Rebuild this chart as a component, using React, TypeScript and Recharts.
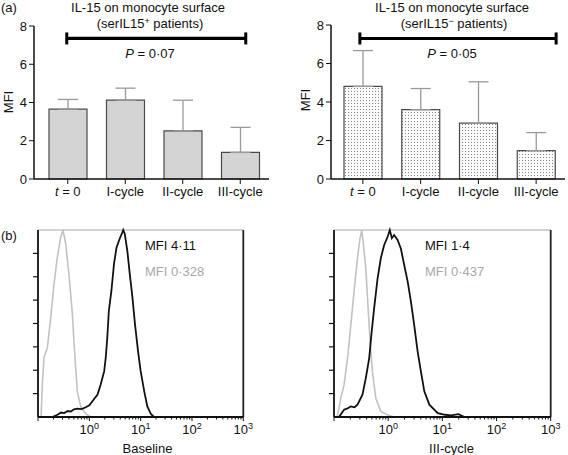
import React from 'react';
import { BarChart, Bar, XAxis, YAxis, ErrorBar, ReferenceLine, LineChart, Line } from 'recharts';

const FONT = '"Liberation Sans", Arial, Helvetica, sans-serif';

// (a) IL-15 MFI on monocytes, mean + upper SD
const cycles = ['t = 0', 'I-cycle', 'II-cycle', 'III-cycle'];
const posMean = [3.65, 4.12, 2.52, 1.39];
const posSd = [0.51, 0.63, 1.6, 1.31];
const negMean = [4.81, 3.6, 2.9, 1.47];
const negSd = [1.86, 1.1, 2.15, 0.94];
const mfiTicks = [0, 2, 4, 6, 8];

// (b) histograms: [log10 fluorescence, % of peak count]
const baselineIl15: [number, number][] = [
  [-0.72, 0], [-0.62, 1.2], [-0.55, 2.4], [-0.49, 2.1], [-0.42, 3.2], [-0.36, 2.9], [-0.3, 4.1],
  [-0.23, 4.5], [-0.15, 4.2], [-0.07, 5.2], [0.0, 6.2], [0.06, 8.4], [0.16, 12], [0.22, 17.3],
  [0.29, 24.5], [0.32, 31.7], [0.35, 42.4], [0.38, 56.7], [0.43, 67.4], [0.48, 81.7], [0.53, 90.7],
  [0.6, 96], [0.64, 98.5], [0.66, 100], [0.69, 98], [0.74, 89], [0.79, 76], [0.84, 64], [0.89, 49.5],
  [0.95, 35], [1.0, 24.5], [1.07, 13.7], [1.13, 5.7], [1.2, 1.6], [1.26, 0],
];
const baselineIso: [number, number][] = [
  [-0.94, 0], [-0.916, 17], [-0.883, 32], [-0.818, 37], [-0.753, 53], [-0.688, 71], [-0.623, 85.5],
  [-0.558, 96], [-0.513, 100], [-0.46, 92.5], [-0.396, 76], [-0.33, 55], [-0.3, 40.6], [-0.265, 26],
  [-0.234, 13.7], [-0.168, 5.7], [-0.07, 1.6], [0.03, 0],
];
const cycle3Il15: [number, number][] = [
  [-0.907, 0], [-0.815, 3.9], [-0.75, 4.6], [-0.69, 5.7], [-0.62, 5.2], [-0.567, 6.6], [-0.474, 11.9],
  [-0.413, 20.8], [-0.35, 31.5], [-0.31, 44], [-0.26, 58], [-0.196, 74], [-0.135, 85], [-0.074, 92],
  [-0.01, 96.4], [0.03, 100], [0.068, 95.6], [0.11, 97.3], [0.174, 94.7], [0.235, 90], [0.296, 81.3],
  [0.36, 72.4], [0.42, 61.7], [0.48, 49.3], [0.544, 35], [0.605, 24.3], [0.667, 13.7], [0.76, 6.6],
  [0.915, 2.1], [1.05, 1.2], [1.16, 0.9], [1.3, 1.5], [1.41, 0],
];
const cycle3Iso: [number, number][] = [
  [-0.94, 0], [-0.876, 10], [-0.815, 17], [-0.75, 31.5], [-0.69, 49], [-0.63, 67], [-0.567, 85],
  [-0.52, 95.6], [-0.487, 100], [-0.456, 92], [-0.413, 79.5], [-0.37, 58], [-0.333, 40], [-0.29, 24],
  [-0.228, 10], [-0.135, 3], [-0.01, 1], [0.11, 0],
];
const decades = [-1, 0, 1, 2, 3];
const minorSteps = [2, 3, 4, 5, 6, 7, 8, 9];
const countTicks = [12.5, 25, 37.5, 50, 62.5, 75, 87.5];

const logTicks = [
  ...decades,
  ...decades.slice(0, -1).flatMap((d) => minorSteps.map((m) => d + Math.log10(m))),
].sort((a, b) => a - b);

// histogram frame geometry (panel top 220, chart margin top 10, x-axis height 38)
const HIST_TOP = 230;
const HIST_H = 187;
const histAxisX = [38, 334];

const toXY = (pts: [number, number][]) => pts.map(([x, y]) => ({ x, y }));

const CycleTick = ({ x, y, payload }: any) => {
  const v = String(payload.value);
  return (
    <text x={x} y={y} dy="0.71em" textAnchor="middle" fontSize={13} fill="#111" fontFamily={FONT}>
      {v.startsWith('t') ? (
        <>
          <tspan fontStyle="italic">t</tspan>
          <tspan>{v.slice(1)}</tspan>
        </>
      ) : (
        v
      )}
    </text>
  );
};

const HistTick = ({ x, y, payload }: any) => {
  const v = payload.value;
  const major = Number.isInteger(v);
  return (
    <g>
      <line x1={x} x2={x} y1={y} y2={y + (major ? 4 : 2.5)} stroke="#111" strokeWidth={1} />
      {major && v >= 0 && (
        <text x={x} y={y + 17} textAnchor="middle" fontSize={13} fill="#111" fontFamily={FONT}>
          <tspan>10</tspan>
          <tspan dy={-5} fontSize={9}>
            {v}
          </tspan>
        </text>
      )}
    </g>
  );
};

const sigBar = (dl: number, dr: number) => (p: any) => {
  const a = p.x1 + dl;
  const b = p.x2 + dr;
  const y = p.y1;
  return (
    <g>
      <line x1={a} x2={b} y1={y} y2={y} stroke="#000" strokeWidth={3.2} />
      <line x1={a} x2={a} y1={y - 6} y2={y + 6} stroke="#000" strokeWidth={3} />
      <line x1={b} x2={b} y1={y - 6} y2={y + 6} stroke="#000" strokeWidth={3} />
    </g>
  );
};

function BarPanel({ means, sds, fill, top, right, yWidth, padLeft, sigY, sigL, sigR, dotted }: any) {
  const data = cycles.map((c, i) => ({ cycle: c, mfi: means[i], sd: [0, sds[i]] }));
  return (
    <BarChart width={dotted ? 284 : 280} height={205} data={data} margin={{ top, right, bottom: 0, left: 0 }}>
      <defs>
        <pattern id="dots" width={3} height={3} patternUnits="userSpaceOnUse">
          <rect width={3} height={3} fill="#fbfbfb" />
          <rect x={1} y={1} width={0.9} height={0.9} fill="#6a6a6a" />
        </pattern>
      </defs>
      <XAxis
        dataKey="cycle"
        height={26}
        padding={{ left: padLeft, right: 0 }}
        tick={<CycleTick />}
        tickSize={5}
        tickMargin={3}
        interval={0}
        axisLine={{ stroke: '#111', strokeWidth: 1.5 }}
        tickLine={{ stroke: '#111' }}
      />
      <YAxis
        domain={[0, 8]}
        ticks={mfiTicks}
        width={yWidth}
        tickSize={5}
        tickMargin={2}
        tick={{ fontSize: 13, fill: '#111', fontFamily: FONT }}
        axisLine={{ stroke: '#111', strokeWidth: 1.5 }}
        tickLine={{ stroke: '#111' }}
      />
      <ReferenceLine
        segment={[{ x: cycles[0], y: sigY }, { x: cycles[3], y: sigY }]}
        shape={sigBar(sigL, sigR)}
      />
      <Bar dataKey="mfi" barSize={38} fill={fill} stroke="#4a4a4a" strokeWidth={1.2} isAnimationActive={false}>
        <ErrorBar dataKey="sd" width={10} stroke="#9a9a9a" strokeWidth={1.3} direction="y" />
      </Bar>
    </BarChart>
  );
}

function HistPanel({ width, yWidth, right, il15, iso }: any) {
  return (
    <LineChart width={width} height={235} margin={{ top: 10, right, bottom: 0, left: 0 }}>
      <XAxis
        type="number"
        dataKey="x"
        domain={[-1, 3]}
        ticks={logTicks}
        interval={0}
        allowDataOverflow
        height={38}
        tickLine={false}
        tickSize={0}
        tickMargin={0}
        tick={<HistTick />}
        axisLine={{ stroke: '#111', strokeWidth: 1.8 }}
      />
      <YAxis domain={[0, 100]} width={yWidth} tick={false} tickLine={false} axisLine={{ stroke: '#111', strokeWidth: 1.8 }} />
      <ReferenceLine y={100} stroke="#c4c4c4" strokeWidth={1.5} />
      <ReferenceLine x={3} stroke="#222" strokeWidth={1.8} />
      <Line data={toXY(iso)} dataKey="y" type="linear" stroke="#c2c2c2" strokeWidth={1.6} dot={false} isAnimationActive={false} />
      <Line data={toXY(il15)} dataKey="y" type="linear" stroke="#111" strokeWidth={1.8} dot={false} isAnimationActive={false} />
    </LineChart>
  );
}

export default function App() {
  const txt = { fontFamily: FONT, fontSize: 13, fill: '#111' };
  return (
    <div style={{ position: 'absolute', left: 0, top: 0, width: 568, height: 455, background: '#fff' }}>
      <div style={{ position: 'absolute', left: 0, top: 0 }}>
        <BarPanel means={posMean} sds={posSd} fill="#d4d4d4" top={26} right={11} yWidth={34} padLeft={5} sigY={7.35} sigL={-1} sigR={5.5} />
      </div>
      <div style={{ position: 'absolute', left: 284, top: 0 }}>
        <BarPanel means={negMean} sds={negSd} fill="url(#dots)" dotted top={25} right={3} yWidth={47} padLeft={3} sigY={7.3} sigL={-3} sigR={20} />
      </div>
      <div style={{ position: 'absolute', left: 0, top: 220 }}>
        <HistPanel width={260} yWidth={38} right={16.7} il15={baselineIl15} iso={baselineIso} />
      </div>
      <div style={{ position: 'absolute', left: 284, top: 220 }}>
        <HistPanel width={284} yWidth={50} right={17.3} il15={cycle3Il15} iso={cycle3Iso} />
      </div>
      <svg width={568} height={455} style={{ position: 'absolute', left: 0, top: 0, pointerEvents: 'none' }}>
        {histAxisX.map((ax) =>
          countTicks.map((t) => {
            const y = HIST_TOP + HIST_H * (1 - t / 100);
            return <line key={`${ax}-${t}`} x1={ax - 5} x2={ax} y1={y} y2={y} stroke="#111" strokeWidth={1.2} />;
          })
        )}

        <text x={1} y={11.5} {...txt}>(a)</text>
        <text x={1} y={239.5} {...txt}>(b)</text>

        <text x={148} y={11.5} textAnchor="middle" {...txt}>IL-15 on monocyte surface</text>
        <text x={150} y={27.5} textAnchor="middle" {...txt}>
          (serIL15<tspan dy={-4} fontSize={9}>+</tspan>
          <tspan dy={4}> patients)</tspan>
        </text>
        <text x={452} y={11.5} textAnchor="middle" {...txt}>IL-15 on monocyte surface</text>
        <text x={454} y={27.5} textAnchor="middle" {...txt}>
          (serIL15<tspan dy={-4} fontSize={9}>{'\u2212'}</tspan>
          <tspan dy={4}> patients)</tspan>
        </text>

        <text x={150} y={57.5} textAnchor="middle" {...txt}>
          <tspan fontStyle="italic">P</tspan> = 0·07
        </text>
        <text x={452} y={57.5} textAnchor="middle" {...txt}>
          <tspan fontStyle="italic">P</tspan> = 0·05
        </text>

        <text transform="translate(13,102) rotate(-90)" textAnchor="middle" {...txt}>MFI</text>
        <text transform="translate(309.5,100) rotate(-90)" textAnchor="middle" {...txt}>MFI</text>

        <text x={145} y={249.5} {...txt}>MFI 4·11</text>
        <text x={145} y={275.5} {...txt} fill="#a8a8a8">MFI 0·328</text>
        <text x={425} y={249.5} {...txt}>MFI 1·4</text>
        <text x={425} y={275.5} {...txt} fill="#a8a8a8">MFI 0·437</text>

        <text x={147.5} y={452.5} textAnchor="middle" {...txt}>Baseline</text>
        <text x={451.5} y={452.5} textAnchor="middle" {...txt}>III-cycle</text>
      </svg>
    </div>
  );
}
